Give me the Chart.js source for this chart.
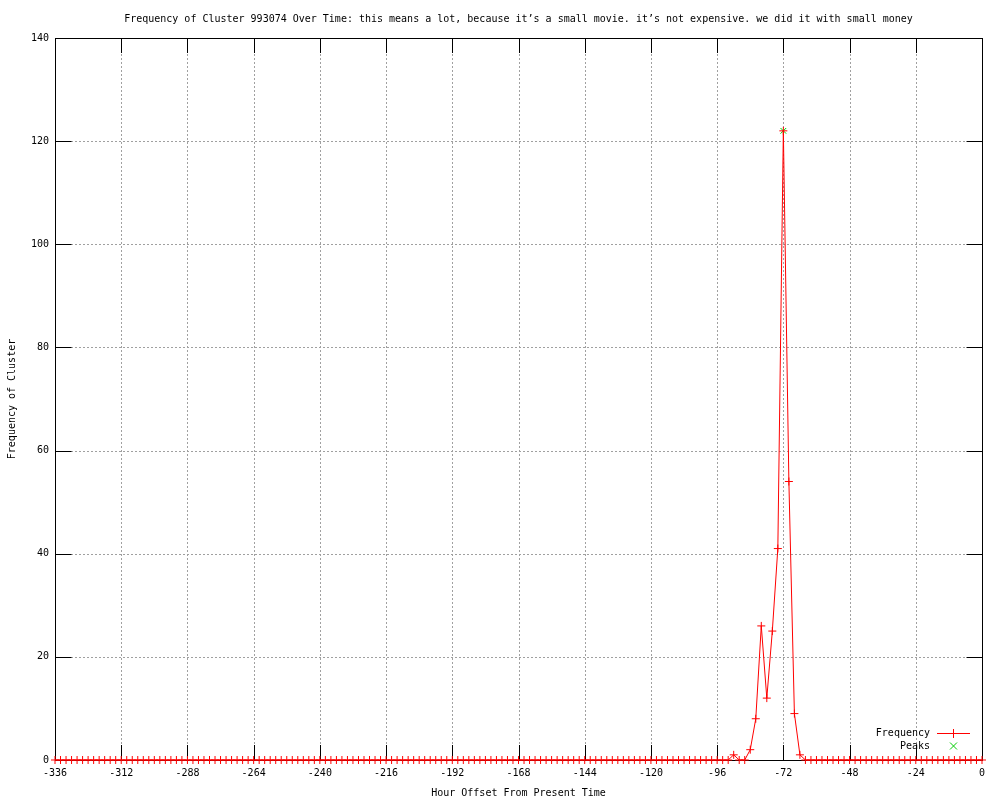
<!DOCTYPE html>
<html>
<head>
<meta charset="utf-8">
<title>Frequency of Cluster 993074</title>
<script src="https://cdn.jsdelivr.net/npm/chart.js@4.4.1/dist/chart.umd.min.js"></script>
<style>
html, body { margin: 0; padding: 0; background: #fff; }
#wrap { width: 1000px; height: 800px; }
</style>
</head>
<body>
<div id="wrap"><canvas id="mycanvas" width="1000" height="800"></canvas></div>
<script>
// hour offsets (every 2 hours) and frequency
var hours = [
  -336,-334,-332,-330,-328,-326,-324,-322,-320,-318,-316,-314,
  -312,-310,-308,-306,-304,-302,-300,-298,-296,-294,-292,-290,
  -288,-286,-284,-282,-280,-278,-276,-274,-272,-270,-268,-266,
  -264,-262,-260,-258,-256,-254,-252,-250,-248,-246,-244,-242,
  -240,-238,-236,-234,-232,-230,-228,-226,-224,-222,-220,-218,
  -216,-214,-212,-210,-208,-206,-204,-202,-200,-198,-196,-194,
  -192,-190,-188,-186,-184,-182,-180,-178,-176,-174,-172,-170,
  -168,-166,-164,-162,-160,-158,-156,-154,-152,-150,-148,-146,
  -144,-142,-140,-138,-136,-134,-132,-130,-128,-126,-124,-122,
  -120,-118,-116,-114,-112,-110,-108,-106,-104,-102,-100,-98,
  -96,-94,-92,-90,-88,-86,-84,-82,-80,-78,-76,-74,
  -72,-70,-68,-66,-64,-62,-60,-58,-56,-54,-52,-50,
  -48,-46,-44,-42,-40,-38,-36,-34,-32,-30,-28,-26,
  -24,-22,-20,-18,-16,-14,-12,-10,-8,-6,-4,-2,
  0
];
var freq = [
  0,0,0,0,0,0,0,0,0,0,0,0,
  0,0,0,0,0,0,0,0,0,0,0,0,
  0,0,0,0,0,0,0,0,0,0,0,0,
  0,0,0,0,0,0,0,0,0,0,0,0,
  0,0,0,0,0,0,0,0,0,0,0,0,
  0,0,0,0,0,0,0,0,0,0,0,0,
  0,0,0,0,0,0,0,0,0,0,0,0,
  0,0,0,0,0,0,0,0,0,0,0,0,
  0,0,0,0,0,0,0,0,0,0,0,0,
  0,0,0,0,0,0,0,0,0,0,0,0,
  0,0,0,1,0,0,2,8,26,12,25,41,
  122,54,9,1,0,0,0,0,0,0,0,0,
  0,0,0,0,0,0,0,0,0,0,0,0,
  0,0,0,0,0,0,0,0,0,0,0,0,
  0
];
var peakHours = [-72];
var peakValues = [122];
var xTicks = [-336,-312,-288,-264,-240,-216,-192,-168,-144,-120,-96,-72,-48,-24,0];
var yTicks = [0,20,40,60,80,100,120,140];
var chartTitle = 'Frequency of Cluster 993074 Over Time: this means a lot, because it\u2019s a small movie. it\u2019s not expensive. we did it with small money';

var FONT = '"DejaVu Sans Mono", "Liberation Mono", monospace';

var freqPoints = [];
for (var i = 0; i < hours.length; i++) {
  freqPoints.push({x: hours[i], y: freq[i]});
}
var peakPoints = [];
for (var j = 0; j < peakHours.length; j++) {
  peakPoints.push({x: peakHours[j], y: peakValues[j]});
}

// gnuplot style frame: dotted grid, box border, inward ticks, title, key
var gnuFrame = {
  id: 'gnuFrame',
  beforeDatasetsDraw: function(chart) {
    var ctx = chart.ctx, a = chart.chartArea;
    var xs = chart.scales.x, ys = chart.scales.y;
    ctx.save();
    ctx.lineWidth = 1;
    ctx.strokeStyle = '#a0a0a0';
    ctx.setLineDash([2, 2]);
    xTicks.forEach(function(v) {
      if (v <= xs.min || v >= xs.max) return;
      var px = Math.round(xs.getPixelForValue(v)) + 0.5;
      ctx.beginPath(); ctx.moveTo(px, a.top); ctx.lineTo(px, a.bottom); ctx.stroke();
    });
    yTicks.forEach(function(v) {
      if (v <= ys.min || v >= ys.max) return;
      var py = Math.round(ys.getPixelForValue(v)) + 0.5;
      ctx.beginPath(); ctx.moveTo(a.left, py); ctx.lineTo(a.right, py); ctx.stroke();
    });
    ctx.setLineDash([]);
    ctx.strokeStyle = '#000';
    var left = Math.round(a.left) + 0.5, right = Math.round(a.right) + 0.5;
    xTicks.forEach(function(v) {
      var px = Math.round(xs.getPixelForValue(v)) + 0.5;
      ctx.beginPath();
      ctx.moveTo(px, a.bottom); ctx.lineTo(px, a.bottom - 15);
      ctx.moveTo(px, a.top); ctx.lineTo(px, a.top + 15);
      ctx.stroke();
    });
    yTicks.forEach(function(v) {
      var py = Math.round(ys.getPixelForValue(v)) + 0.5;
      ctx.beginPath();
      ctx.moveTo(left, py); ctx.lineTo(left + 16, py);
      ctx.moveTo(right, py); ctx.lineTo(right - 16, py);
      ctx.stroke();
    });
    ctx.strokeRect(left, Math.round(a.top) + 0.5, right - left, Math.round(a.bottom - a.top));

    ctx.font = '10px ' + FONT;
    ctx.fillStyle = '#000';
    ctx.textAlign = 'center';
    ctx.textBaseline = 'middle';
    ctx.fillText(chartTitle, (a.left + a.right) / 2, 19);
    ctx.restore();
  },
  afterDatasetsDraw: function(chart) {
    var ctx = chart.ctx;
    ctx.save();
    ctx.font = '10px ' + FONT;
    ctx.fillStyle = '#000';
    ctx.textAlign = 'right';
    ctx.textBaseline = 'middle';
    ctx.fillText('Frequency', 930, 733);
    ctx.fillText('Peaks', 930, 746);
    ctx.strokeStyle = '#ff0000';
    ctx.lineWidth = 1;
    ctx.beginPath();
    ctx.moveTo(937, 733.5); ctx.lineTo(970, 733.5);
    ctx.moveTo(953.5, 729); ctx.lineTo(953.5, 738);
    ctx.stroke();
    ctx.strokeStyle = '#00cc00';
    ctx.beginPath();
    ctx.moveTo(950, 742.5); ctx.lineTo(957, 749.5);
    ctx.moveTo(957, 742.5); ctx.lineTo(950, 749.5);
    ctx.stroke();
    ctx.restore();
  }
};

var ctx = document.getElementById('mycanvas').getContext('2d');
var chart = new Chart(ctx, {
  type: 'line',
  data: {
    datasets: [{
      label: 'Frequency',
      data: freqPoints,
      borderColor: '#ff0000',
      backgroundColor: '#ff0000',
      borderWidth: 1,
      tension: 0,
      fill: false,
      pointStyle: 'cross',
      pointRadius: 4,
      pointBorderWidth: 1,
      pointHoverRadius: 4,
      clip: false
    }, {
      label: 'Peaks',
      data: peakPoints,
      showLine: false,
      borderColor: '#00cc00',
      backgroundColor: '#00cc00',
      pointStyle: 'crossRot',
      pointRadius: 4,
      pointBorderWidth: 1,
      clip: false
    }]
  },
  options: {
    responsive: false,
    animation: false,
    devicePixelRatio: 1,
    layout: { padding: { left: 0, right: 18, top: 38, bottom: 0 } },
    plugins: {
      legend: { display: false },
      tooltip: { enabled: false },
      title: { display: false }
    },
    scales: {
      x: {
        type: 'linear',
        min: -336,
        max: 0,
        afterBuildTicks: function(scale) {
          scale.ticks = xTicks.map(function(v) { return {value: v}; });
        },
        afterFit: function(scale) { scale.height = 40; },
        grid: { display: false, drawTicks: false },
        border: { display: false },
        ticks: {
          color: '#000',
          padding: 7,
          maxRotation: 0,
          autoSkip: false,
          font: { family: FONT, size: 10 }
        },
        title: {
          display: true,
          text: 'Hour Offset From Present Time',
          color: '#000',
          font: { family: FONT, size: 10, lineHeight: 1.2 },
          padding: { top: 0, bottom: 1 }
        }
      },
      y: {
        min: 0,
        max: 140,
        afterBuildTicks: function(scale) {
          scale.ticks = yTicks.map(function(v) { return {value: v}; });
        },
        afterFit: function(scale) { scale.width = 55; },
        grid: { display: false, drawTicks: false },
        border: { display: false },
        ticks: {
          color: '#000',
          padding: 6,
          font: { family: FONT, size: 10 }
        },
        title: {
          display: true,
          text: 'Frequency of Cluster',
          color: '#000',
          font: { family: FONT, size: 10, lineHeight: 1.2 },
          padding: { top: 6, bottom: 0 }
        }
      }
    }
  },
  plugins: [gnuFrame]
});
</script>
</body>
</html>
